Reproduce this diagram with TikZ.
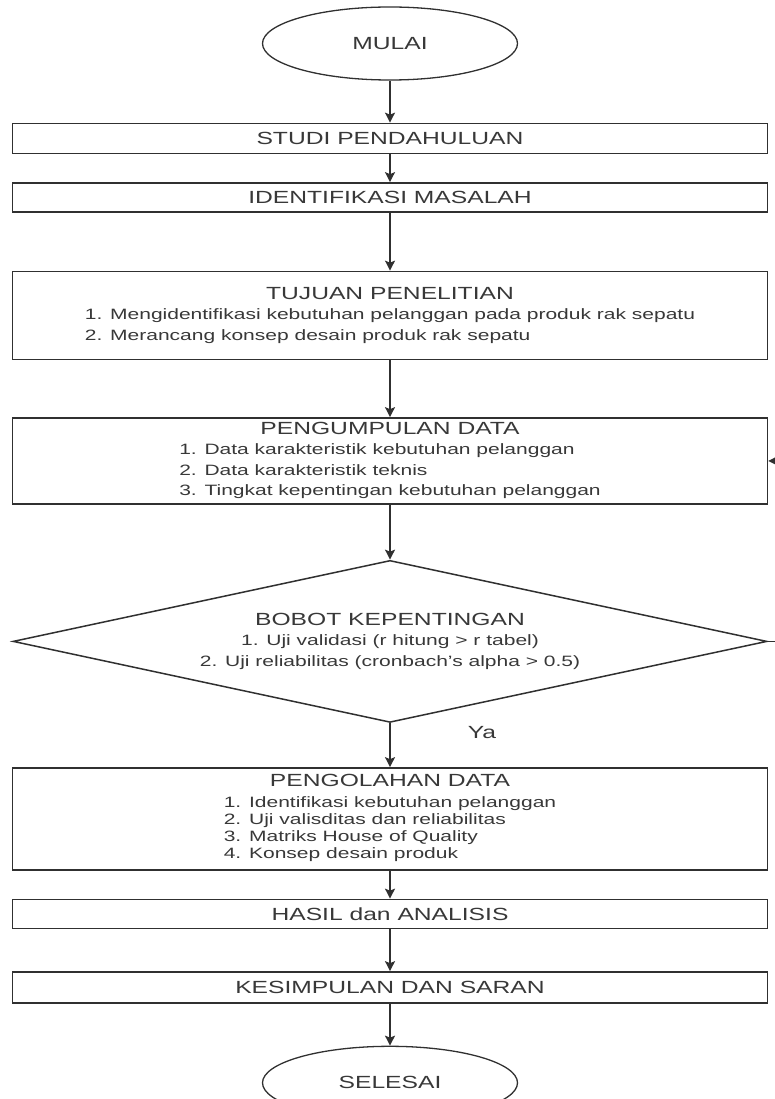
\documentclass[tikz,border=0pt]{standalone}
\usepackage{fontspec}
\setmainfont{Liberation Sans}[FakeStretch=1.4]
\usepackage{xcolor}
\usepackage{tikz}
\usetikzlibrary{positioning,arrows.meta,shapes.geometric}
\definecolor{garis}{HTML}{303030}
\definecolor{teks}{HTML}{383838}
\newcommand{\judul}[1]{\multicolumn{1}{@{}c@{}}{\fontsize{17.6}{21}\selectfont #1}}

\begin{document}
\begin{tikzpicture}[x=1pt, y=1pt, font=\fontsize{15}{20.5}\selectfont\color{teks},
  kotak/.style={draw=garis, line width=1.5pt, rectangle, minimum width=755pt, inner sep=0pt, align=center},
  oval/.style={draw=garis, line width=1.3pt, ellipse, minimum width=255pt, minimum height=73pt, inner sep=0pt},
  besar/.style={font=\fontsize{17.6}{21}\selectfont\color{teks}},
  panah/.style={draw=garis, line width=1.5pt, -{Stealth[length=10pt,width=10pt,inset=2pt]}}]
\useasboundingbox (0,0) rectangle (775,-1099);
\node[oval,besar] (mulai) at (390,-43.5) {MULAI};
\node[kotak,besar,minimum height=30pt,below=42pt of mulai] (studi) {STUDI PENDAHULUAN};
\node[kotak,besar,minimum height=29pt,below=28pt of studi] (ident) {IDENTIFIKASI MASALAH};
\node[kotak,minimum height=88pt,below=58pt of ident] (tujuan) {\begin{tabular}{@{}l@{}}
  \judul{TUJUAN PENELITIAN}\\
  1. Mengidentifikasi kebutuhan pelanggan pada produk rak sepatu\\
  2. Merancang konsep desain produk rak sepatu
\end{tabular}};
\node[kotak,minimum height=86pt,below=57pt of tujuan] (kumpul) {\begin{tabular}{@{}l@{}}
  \judul{PENGUMPULAN DATA}\\
  1. Data karakteristik kebutuhan pelanggan\\
  2. Data karakteristik teknis\\
  3. Tingkat kepentingan kebutuhan pelanggan
\end{tabular}};
\node[diamond,draw=garis,line width=1.5pt,aspect=4.65,minimum width=754pt,minimum height=162pt,inner sep=0pt,below=55pt of kumpul] (bobot) {\begin{tabular}{@{}c@{}}
  \judul{BOBOT KEPENTINGAN}\\
  1. Uji validasi (r hitung > r tabel)\\
  2. Uji reliabilitas (cronbach's alpha > 0.5)
\end{tabular}};
\node[kotak,minimum height=102pt,below=44pt of bobot,font=\fontsize{15}{17}\selectfont\color{teks}] (olah) {\begin{tabular}{@{}l@{}}
  \judul{PENGOLAHAN DATA}\\[4pt]
  1. Identifikasi kebutuhan pelanggan\\
  2. Uji valisditas dan reliabilitas\\
  3. Matriks House of Quality\\
  4. Konsep desain produk
\end{tabular}};
\node[kotak,besar,minimum height=29pt,below=28pt of olah] (hasil) {HASIL dan ANALISIS};
\node[kotak,besar,minimum height=31pt,below=42pt of hasil] (simpul) {KESIMPULAN DAN SARAN};
\node[oval,besar,below=42pt of simpul] (selesai) {SELESAI};
\node[besar] (ya) at ([xshift=92pt,yshift=-9pt]bobot.south) {Ya};
\foreach \a/\b in {mulai/studi,studi/ident,ident/tujuan,tujuan/kumpul,kumpul/bobot,bobot/olah,olah/hasil,hasil/simpul,simpul/selesai}
  \draw[panah] (\a) -- (\b);
\draw[panah] (bobot.east) -- ++(40,0) |- (kumpul.east);
\end{tikzpicture}
\end{document}
